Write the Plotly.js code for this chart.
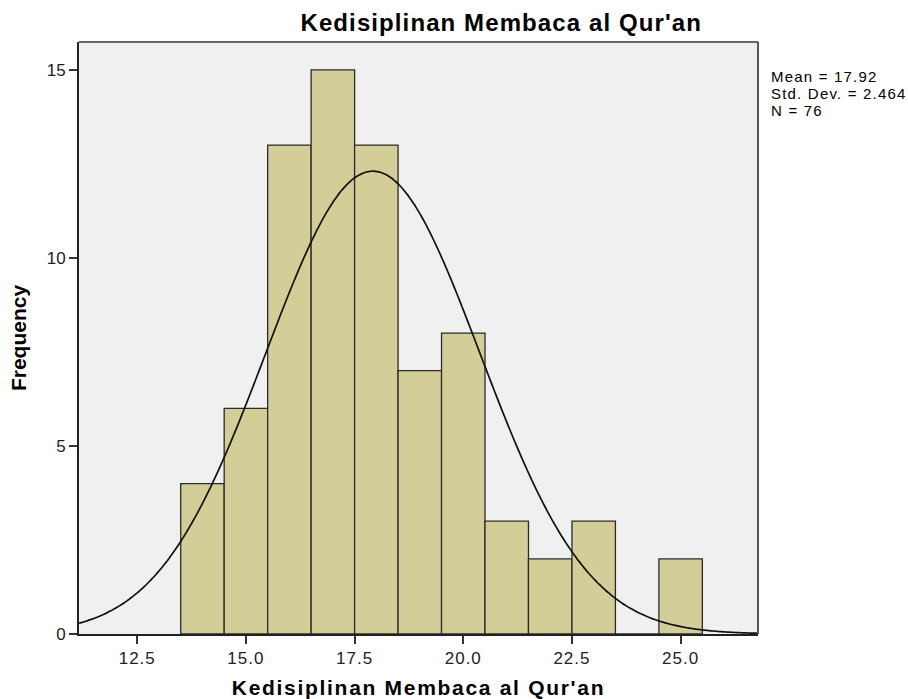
<!DOCTYPE html>
<html>
<head>
<meta charset="utf-8">
<script src="https://cdn.plot.ly/plotly-3.0.1.min.js"></script>
<style>
html,body{margin:0;padding:0;background:#fff;}
#chart{width:908px;height:699px;}
#chart .gtitle{letter-spacing:1.1px;}
#chart .xtitle{letter-spacing:1.7px;}
#chart .xtick text{letter-spacing:1px;}
#chart .annotation-text{letter-spacing:1.2px;}
</style>
</head>
<body>
<div id="chart"></div>
<script>
// Histogram data (bins centred on integer scores, bin width 1)
var scores = [14, 15, 16, 17, 18, 19, 20, 21, 22, 23, 24, 25];
var frequencies = [4, 6, 13, 15, 13, 7, 8, 3, 2, 3, 0, 2];
var statMean = 17.92;
var statSD = 2.464;
var statN = 76;
var binWidth = 1;
var xTickVals = [12.5, 15.0, 17.5, 20.0, 22.5, 25.0];
var xTickText = ['12.5', '15.0', '17.5', '20.0', '22.5', '25.0'];
var yTickVals = [0, 5, 10, 15];
var statLines = ['Mean = 17.92', 'Std. Dev. = 2.464', 'N = 76'];

var xRange = [11.16, 26.78];

// Fitted normal curve from the reported mean / sd / N
var curveX = [], curveY = [];
var steps = 300;
for (var i = 0; i <= steps; i++) {
  var x = xRange[0] + (xRange[1] - xRange[0]) * i / steps;
  var z = (x - statMean) / statSD;
  curveX.push(x);
  curveY.push(statN * binWidth / (statSD * Math.sqrt(2 * Math.PI)) * Math.exp(-0.5 * z * z));
}

var FONT = 'Liberation Sans, Arial, sans-serif';

var traces = [
  {
    type: 'bar',
    x: scores,
    y: frequencies,
    width: binWidth,
    marker: {color: '#d3ce97', line: {color: '#2b2b2b', width: 1.3}},
    hoverinfo: 'x+y'
  },
  {
    type: 'scatter',
    mode: 'lines',
    x: curveX,
    y: curveY,
    line: {color: '#111111', width: 1.7, shape: 'spline'},
    hoverinfo: 'skip'
  }
];

var statY = [0.9409, 0.9122, 0.8851];
var annotations = statLines.map(function (t, k) {
  return {
    xref: 'paper', yref: 'paper',
    x: 1.016, y: statY[k],
    xanchor: 'left', yanchor: 'middle', align: 'left',
    text: t, showarrow: false,
    font: {family: FONT, size: 15, color: '#000'}
  };
});

var layout = {
  width: 908, height: 699,
  margin: {l: 79, r: 150, t: 42, b: 65, pad: 0},
  paper_bgcolor: '#ffffff',
  plot_bgcolor: '#f0f0f0',
  showlegend: false,
  bargap: 0,
  title: {
    text: 'Kedisiplinan Membaca al Qur\'an',
    font: {family: FONT, size: 24, color: '#000', weight: 'bold'},
    x: 0.552, xanchor: 'center',
    y: 0.968, yanchor: 'middle'
  },
  xaxis: {
    range: xRange,
    tickvals: xTickVals,
    ticktext: xTickText,
    ticks: 'outside', ticklen: 8, tickwidth: 2, tickcolor: '#333',
    showgrid: false, zeroline: false,
    showline: true, linecolor: '#222', linewidth: 2, mirror: false,
    tickfont: {family: FONT, size: 17, color: '#222'},
    title: {text: 'Kedisiplinan Membaca al Qur\'an', font: {family: FONT, size: 21, color: '#000', weight: 'bold'}, standoff: 17}
  },
  yaxis: {
    range: [0, 15.74],
    tickvals: yTickVals,
    ticks: 'outside', ticklen: 8, tickwidth: 2, tickcolor: '#333',
    showgrid: false, zeroline: false,
    showline: true, linecolor: '#222', linewidth: 2,
    tickfont: {family: FONT, size: 17, color: '#222'},
    title: {text: 'Frequency', font: {family: FONT, size: 21, color: '#000', weight: 'bold'}, standoff: 14}
  },
  shapes: [
    {type: 'line', xref: 'paper', yref: 'paper', x0: 0, x1: 1, y0: 1, y1: 1, line: {color: '#666', width: 2}},
    {type: 'line', xref: 'paper', yref: 'paper', x0: 1, x1: 1, y0: 0, y1: 1, line: {color: '#555', width: 2}}
  ],
  annotations: annotations
};

Plotly.newPlot('chart', traces, layout, {displayModeBar: false, staticPlot: true});
</script>
</body>
</html>
